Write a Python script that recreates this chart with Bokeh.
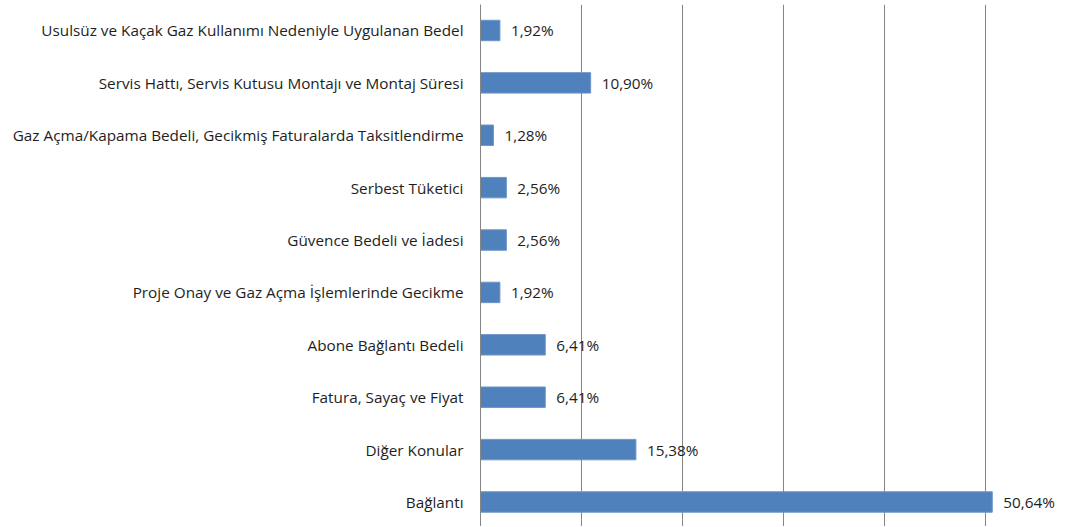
from bokeh.plotting import figure
from bokeh.models import Range1d, FixedTicker, ColumnDataSource, LabelSet
from bokeh.core.properties import value
from bokeh.embed import file_html
from bokeh.resources import INLINE

# Data (bottom to top)
categories = [
    "Bağlantı",
    "Diğer Konular",
    "Fatura, Sayaç ve Fiyat",
    "Abone Bağlantı Bedeli",
    "Proje Onay ve Gaz Açma İşlemlerinde Gecikme",
    "Güvence Bedeli ve İadesi",
    "Serbest Tüketici",
    "Gaz Açma/Kapama Bedeli, Gecikmiş Faturalarda Taksitlendirme",
    "Servis Hattı, Servis Kutusu Montajı ve Montaj Süresi",
    "Usulsüz ve Kaçak Gaz Kullanımı Nedeniyle Uygulanan Bedel",
]
values = [50.64, 15.38, 6.41, 6.41, 1.92, 2.56, 2.56, 1.28, 10.90, 1.92]
value_labels = ["50,64%", "15,38%", "6,41%", "6,41%", "1,92%", "2,56%", "2,56%", "1,28%", "10,90%", "1,92%"]
grid_ticks = [0, 10, 20, 30, 40, 50]

positions = list(range(len(categories)))
source = ColumnDataSource(dict(y=positions, v=values, lab=value_labels))

FONT = "Open Sans"
FSIZE = "15.3px"
GRID = "#868686"

p = figure(width=1080, height=526, output_backend="svg", toolbar_location=None,
           x_range=Range1d(0, 59.37), y_range=Range1d(-0.468, 9.496),
           min_border_left=480, min_border_right=0, min_border_top=4, min_border_bottom=0)
p.outline_line_color = None
p.background_fill_color = "white"
p.border_fill_color = "white"

p.hbar(y="y", right="v", left=0, height=0.39, source=source,
       fill_color="#4F81BD", line_color="#6d95c8", line_width=1)

labels = LabelSet(x="v", y="y", text="lab", source=source, x_offset=11,
                  text_baseline="middle", text_align="left",
                  text_font=value(FONT), text_font_size=FSIZE, text_color="#1e1e1e")
p.add_layout(labels)

# x axis: hidden, provides gridlines
p.xaxis.ticker = FixedTicker(ticks=grid_ticks)
p.xaxis.visible = False
p.xgrid.grid_line_color = GRID
p.xgrid.grid_line_width = 1
p.ygrid.grid_line_color = None

# y axis: category labels, its line acts as the 0 gridline
p.yaxis.ticker = FixedTicker(ticks=positions)
p.yaxis.major_label_overrides = {i: c for i, c in zip(positions, categories)}
p.yaxis.axis_line_color = GRID
p.yaxis.axis_line_width = 1
p.yaxis.major_tick_line_color = None
p.yaxis.minor_tick_line_color = None
p.yaxis.major_tick_out = 0
p.yaxis.major_tick_in = 0
p.yaxis.major_label_standoff = 17
p.yaxis.major_label_text_font = FONT
p.yaxis.major_label_text_font_size = FSIZE
p.yaxis.major_label_text_color = "#1e1e1e"

open("out.html", "w").write(file_html(p, INLINE))
